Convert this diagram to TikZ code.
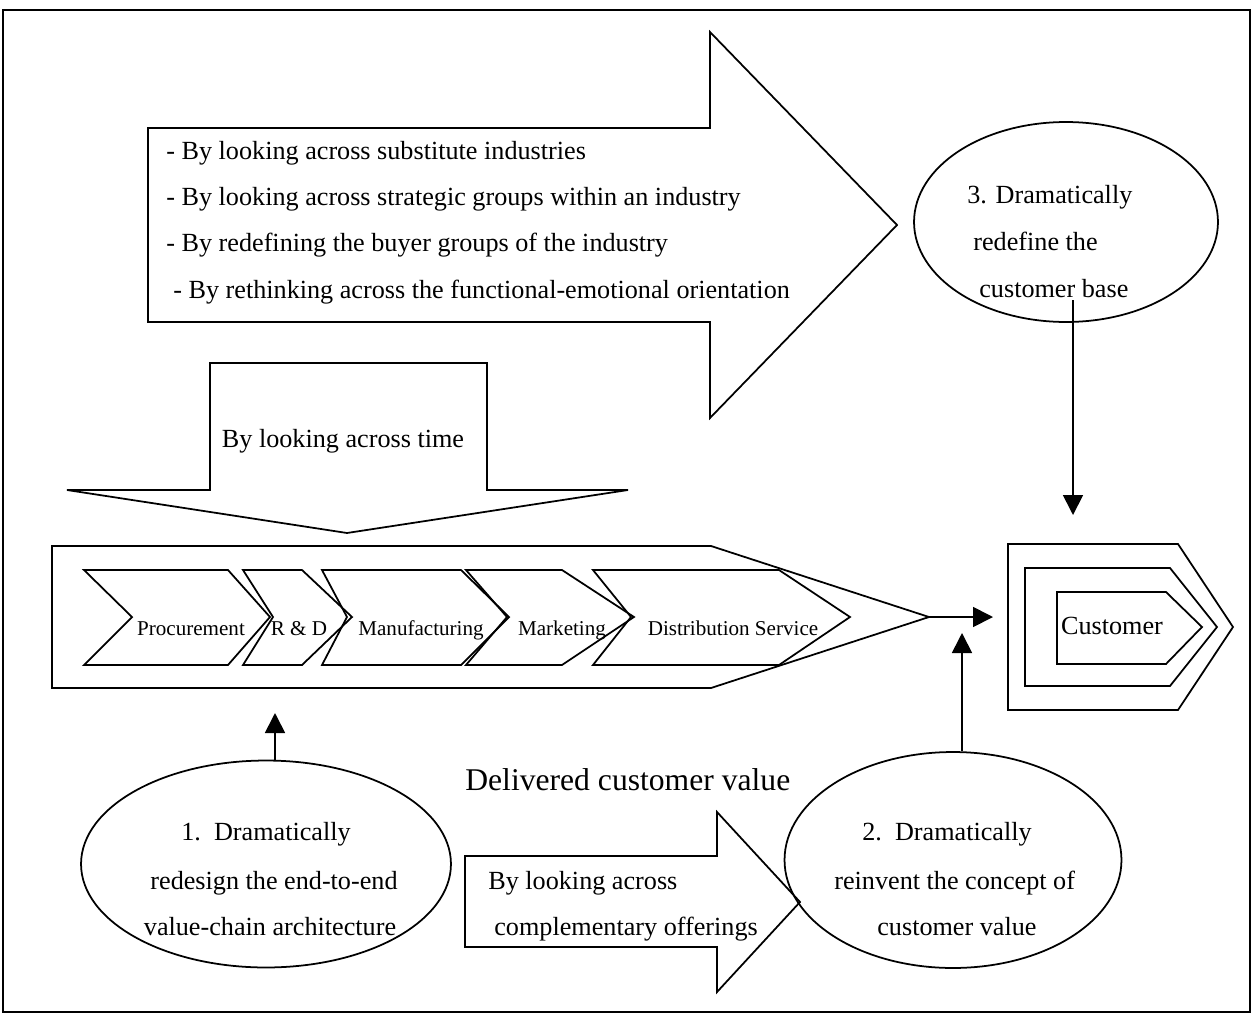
\documentclass[tikz,border=0pt]{standalone}
\usepackage{fontspec}
\setmainfont{Liberation Serif}
\usetikzlibrary{arrows.meta,shapes.geometric}
\begin{document}
\begin{tikzpicture}[x=0.02cm,y=-0.02cm,
  line join=miter,
  outline/.style={draw=black,line width=1pt},
  txt/.style={inner sep=0pt,text height=0.9em,text depth=0.1em,font=\fontsize{14.9}{17}\selectfont},
  small/.style={txt,font=\fontsize{12}{14}\selectfont},
  big/.style={txt,font=\fontsize{18}{21}\selectfont},
  oval/.style={draw=black,line width=1pt,ellipse,inner sep=0pt},
  arr/.style={draw=black,line width=1pt,-{Triangle[length=0.4cm,width=0.4cm]}}]
\useasboundingbox (0,0) rectangle (1254,1014);
\draw[line width=1.2pt] (3,10) rectangle (1250,1012);

% broad arrow carrying the four search paths
\draw[outline] (148,128) -- (710,128) -- (710,32) -- (897,225) -- (710,418)
  -- (710,322) -- (148,322) -- cycle;
\node[txt,anchor=west] (p1) at (166,152) {- By looking across substitute industries};
\node[txt,anchor=west] (p2) at (166,198) {- By looking across strategic groups within an industry};
\node[txt,anchor=west] (p3) at (166,244) {- By redefining the buyer groups of the industry};
\node[txt,anchor=west] (p4) at (173,291) {- By rethinking across the functional-emotional orientation};

% downward arrow: across time
\draw[outline] (210,363) -- (487,363) -- (487,490) -- (628,490) -- (347,533)
  -- (67,490) -- (210,490) -- cycle;
\node[txt] (time) at (343,440) {By looking across time};

% value chain
\draw[outline] (52,546) -- (711,546) -- (929,617) -- (711,688) -- (52,688) -- cycle;
\coordinate (vctip) at (929,617);
\draw[outline] (84,570) -- (228,570) -- (270,617) -- (228,665) -- (84,665) -- (132,617) -- cycle;
\draw[outline] (243,570) -- (302,570) -- (352,617) -- (302,665) -- (243,665) -- (273,617) -- cycle;
\draw[outline] (322,570) -- (461,570) -- (509,617) -- (461,665) -- (322,665) -- (347,617) -- cycle;
\draw[outline] (466,570) -- (562,570) -- (634,617) -- (562,665) -- (466,665) -- (507,617) -- cycle;
\draw[outline] (593,570) -- (779,570) -- (850,617) -- (779,665) -- (593,665) -- (631,617) -- cycle;
\node[small] (proc) at (191,628) {Procurement};
\node[small] (rd) at (299,628) {R \& D};
\node[small] (manu) at (421,628) {Manufacturing};
\node[small] (mark) at (562,628) {Marketing};
\node[small] (dist) at (733,628) {Distribution Service};

% customer
\draw[outline] (1008,544) -- (1178,544) -- (1233,627) -- (1178,710) -- (1008,710) -- cycle;
\draw[outline] (1025,568) -- (1170,568) -- (1217,627) -- (1170,686) -- (1025,686) -- cycle;
\draw[outline] (1057,592) -- (1166,592) -- (1202,627) -- (1166,664) -- (1057,664) -- cycle;
\node[txt] (cust) at (1112,627) {Customer};
\coordinate (custin) at (993,617);
\draw[arr] (vctip) -- (custin);

% three levers
\node[oval,minimum width=6.08cm,minimum height=4cm] (e3) at (1066,222) {};
\node[txt,anchor=west] (e3a) at (967,196) {3. Dramatically};
\node[txt,anchor=west] (e3b) at (973,243) {redefine the};
\node[txt,anchor=west] (e3c) at (979,290) {customer base};
\coordinate (a3end) at (1073,515);
\draw[arr] ([shift={(7,78)}]e3.center) -- (a3end);

\node[oval,minimum width=7.4cm,minimum height=4.14cm] (e1) at (266,864) {};
\node[txt] (e1a) at (266,833) {1.\ \ Dramatically};
\node[txt] (e1b) at (274,882) {redesign the end-to-end};
\node[txt] (e1c) at (270,928) {value-chain architecture};
\coordinate (a1end) at (275,713);
\draw[arr] (e1.north -| a1end) -- (a1end);

\node[oval,minimum width=6.74cm,minimum height=4.32cm] (e2) at (953,860) {};
\node[txt,anchor=west] (e2a) at (862,833) {2.\ \ Dramatically};
\node[txt,anchor=west] (e2b) at (834,882) {reinvent the concept of};
\node[txt,anchor=west] (e2c) at (877,928) {customer value};
\coordinate (a2end) at (962,633);
\draw[arr] (e2.north -| a2end) -- (a2end);

\node[big,anchor=west] (dcv) at (465,783) {Delivered customer value};

% arrow: complementary offerings
\draw[outline] (465,856) -- (717,856) -- (717,812) -- (800,902) -- (717,992)
  -- (717,947) -- (465,947) -- cycle;
\node[txt,anchor=west] (co1) at (488,882) {By looking across};
\node[txt,anchor=west] (co2) at (494,928) {complementary offerings};
\end{tikzpicture}
\end{document}
